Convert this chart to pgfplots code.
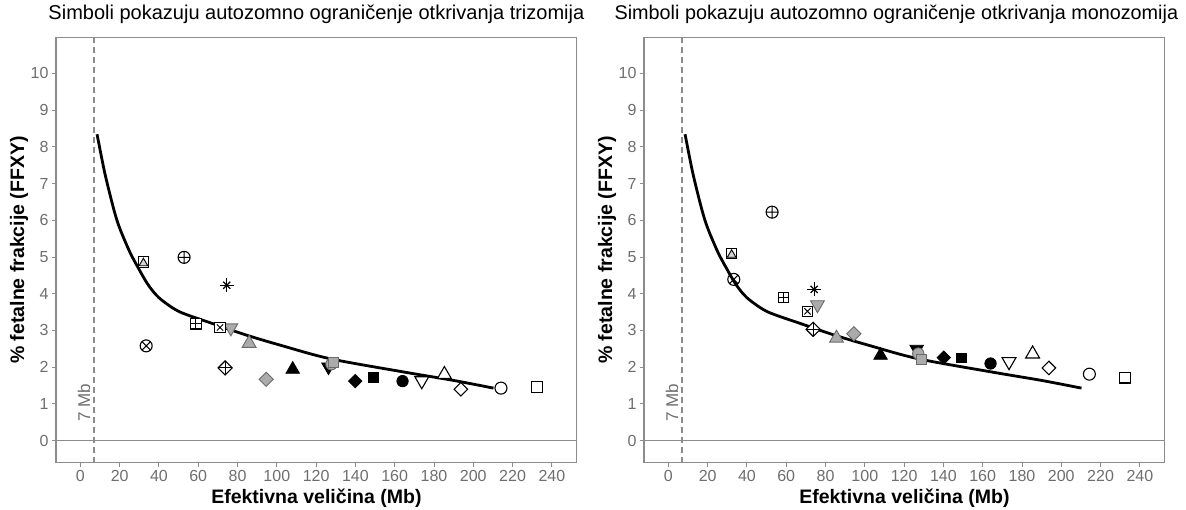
\documentclass[border=0pt]{standalone}
\usepackage{fontspec}
\setmainfont{Liberation Sans}
\usepackage{pgfplots}
\pgfplotsset{compat=1.18}
\definecolor{axisgray}{HTML}{8C8C8C}
\definecolor{tickgray}{HTML}{6E6E6E}
\definecolor{gmfill}{HTML}{ABABAB}
\definecolor{gmedge}{HTML}{6A6A6A}
\tikzset{
  om/.style={draw=black, fill=white, line width=1.1pt},
  bm/.style={draw=black, fill=black, line width=0.8pt},
  gm/.style={draw=gmedge, fill=gmfill, line width=0.9pt},
}
\pgfplotsset{
  panel/.style={
    scale only axis, width=520.8pt, height=425.4pt,
    xmin=-12.4, xmax=252.7, ymin=-0.6, ymax=10.98,
    xtick={0,20,...,240}, ytick={0,1,...,10},
    axis line style={draw=axisgray, line width=1.3pt},
    tick style={draw=axisgray, line width=0.9pt},
    tick align=outside, tick pos=left, major tick length=4pt,
    ticklabel style={font=\fontsize{16}{16}\selectfont, text=tickgray},
    /pgf/number format/assume math mode=true,
    xlabel={Efektivna veličina (Mb)},
    ylabel={\% fetalne frakcije (FFXY)},
    label style={font=\fontsize{19.5}{20}\selectfont\bfseries},
    xlabel style={at={(axis description cs:0.5,-0.0964)}, anchor=base},
    ylabel style={at={(axis description cs:-0.0614,0.5)}, anchor=base, rotate=0},
    title style={at={(axis description cs:0.5,1.028)}, anchor=base, font=\fontsize{20}{22}\selectfont},
    clip=false,
  },
}
\pgfplotstableread{
x y
8.5 8.34
12.5 7.27
17.2 6.26
20.2 5.76
25.3 5.12
29.5 4.70
33.8 4.30
38.0 4.00
42.3 3.79
50.8 3.50
67.7 3.18
84.7 2.87
101.7 2.60
127.1 2.23
164.5 1.87
189.9 1.64
210.3 1.43
}\curvedata
\begin{document}
\begin{tikzpicture}
\path[use as bounding box] (-56pt,-47.3pt) rectangle (1130pt,462.7pt);
% ---------------- left panel ----------------
\begin{axis}[panel, at={(0pt,0pt)}, anchor=south west,
  title={Simboli pokazuju autozomno ograničenje otkrivanja trizomija}]
\addplot[axisgray, line width=1.3pt] coordinates {(-12.4,0) (252.7,0)};
\addplot[axisgray, line width=1.6pt, dash pattern=on 6pt off 4pt] coordinates {(7,-0.6) (7,10.98)};
\node[rotate=90, text=tickgray, font=\fontsize{17}{17}\selectfont] at (axis cs:1.9,1.03) {7 Mb};
\addplot[black, line width=2.8pt, smooth] table {\curvedata};
% open
\addplot[only marks, mark=square*, mark size=5.2pt, mark options={om}] coordinates {(232.4,1.46)};
\addplot[only marks, mark=*, mark size=6pt, mark options={om}] coordinates {(214.1,1.43)};
\addplot[only marks, mark=square*, mark size=4.8pt, mark options={om, rotate=45}] coordinates {(193.7,1.40)};
\addplot[only marks, mark=triangle*, mark size=8pt, mark options={om}] coordinates {(185.3,1.80)};
\addplot[only marks, mark=triangle*, mark size=8pt, mark options={om, rotate=180}] coordinates {(173.8,1.63)};
% black
\addplot[only marks, mark=*, mark size=5.7pt, mark options={bm}] coordinates {(164.0,1.62)};
\addplot[only marks, mark=square*, mark size=4.9pt, mark options={bm}] coordinates {(149.2,1.72)};
\addplot[only marks, mark=square*, mark size=4.7pt, mark options={bm, rotate=45}] coordinates {(139.9,1.62)};
\addplot[only marks, mark=triangle*, mark size=7.8pt, mark options={bm, rotate=180}] coordinates {(126.3,2.01)};
\addplot[only marks, mark=triangle*, mark size=7.8pt, mark options={bm}] coordinates {(108.1,1.94)};
% gray
\addplot[only marks, mark=*, mark size=5.7pt, mark options={gm}] coordinates {(127.8,2.08)};
\addplot[only marks, mark=square*, mark size=5pt, mark options={gm}] coordinates {(128.8,2.14)};
\addplot[only marks, mark=square*, mark size=5pt, mark options={gm, rotate=45}] coordinates {(94.6,1.67)};
\addplot[only marks, mark=triangle*, mark size=8pt, mark options={gm}] coordinates {(85.9,2.65)};
\addplot[only marks, mark=triangle*, mark size=8pt, mark options={gm, rotate=180}] coordinates {(76.6,3.07)};
% compound
\addplot[only marks, mark=square*, mark size=5.2pt, mark options={om}] coordinates {(71.1,3.08)};
\addplot[only marks, mark=x, mark size=4.4pt, mark options={draw=black, line width=0.9pt}] coordinates {(71.1,3.08)};
\addplot[only marks, mark=square*, mark size=5.2pt, mark options={om}] coordinates {(58.8,3.18)};
\addplot[only marks, mark=+, mark size=5pt, mark options={draw=black, line width=0.9pt}] coordinates {(58.8,3.18)};
\addplot[only marks, mark=square*, mark size=5pt, mark options={om, rotate=45}] coordinates {(73.7,1.98)};
\addplot[only marks, mark=+, mark size=6.9pt, mark options={draw=black, line width=0.9pt}] coordinates {(73.7,1.98)};
\addplot[only marks, mark=oplus, mark size=6pt, mark options={draw=black, fill=white, line width=1.1pt}] coordinates {(52.8,4.99)};
\addplot[only marks, mark=otimes, mark size=6pt, mark options={draw=black, fill=white, line width=1.1pt}] coordinates {(33.5,2.58)};
\addplot[only marks, mark=+, mark size=7pt, mark options={draw=black, line width=1.2pt}] coordinates {(74.5,4.23)};
\addplot[only marks, mark=x, mark size=5pt, mark options={draw=black, line width=1.2pt}] coordinates {(74.5,4.23)};
\addplot[only marks, mark=square*, mark size=5.2pt, mark options={om}] coordinates {(32.1,4.86)};
\addplot[only marks, mark=triangle*, mark size=5pt, mark options={draw=black, fill=gmfill!50, line width=0.9pt}] coordinates {(32.1,4.83)};
\end{axis}
% ---------------- right panel ----------------
\begin{axis}[panel, at={(588pt,0pt)}, anchor=south west,
  title style={at={(axis description cs:0.4846,1.028)}, font=\fontsize{19.8}{22}\selectfont},
  title={Simboli pokazuju autozomno ograničenje otkrivanja monozomija}]
\addplot[axisgray, line width=1.3pt] coordinates {(-12.4,0) (252.7,0)};
\addplot[axisgray, line width=1.6pt, dash pattern=on 6pt off 4pt] coordinates {(7,-0.6) (7,10.98)};
\node[rotate=90, text=tickgray, font=\fontsize{17}{17}\selectfont] at (axis cs:1.9,1.03) {7 Mb};
\addplot[black, line width=2.8pt, smooth] table {\curvedata};
% open
\addplot[only marks, mark=square*, mark size=5.2pt, mark options={om}] coordinates {(232.4,1.71)};
\addplot[only marks, mark=*, mark size=6pt, mark options={om}] coordinates {(214.3,1.81)};
\addplot[only marks, mark=square*, mark size=4.8pt, mark options={om, rotate=45}] coordinates {(193.7,1.98)};
\addplot[only marks, mark=triangle*, mark size=8pt, mark options={om}] coordinates {(185.4,2.36)};
\addplot[only marks, mark=triangle*, mark size=8pt, mark options={om, rotate=180}] coordinates {(173.4,2.15)};
% black
\addplot[only marks, mark=*, mark size=5.7pt, mark options={bm}] coordinates {(164.0,2.10)};
\addplot[only marks, mark=square*, mark size=4.9pt, mark options={bm}] coordinates {(149.1,2.25)};
\addplot[only marks, mark=square*, mark size=4.7pt, mark options={bm, rotate=45}] coordinates {(140.2,2.26)};
\addplot[only marks, mark=triangle*, mark size=7.8pt, mark options={bm, rotate=180}] coordinates {(126.4,2.49)};
\addplot[only marks, mark=triangle*, mark size=7.8pt, mark options={bm}] coordinates {(108.0,2.32)};
% gray
\addplot[only marks, mark=*, mark size=5.7pt, mark options={gm}] coordinates {(127.2,2.37)};
\addplot[only marks, mark=square*, mark size=5pt, mark options={gm}] coordinates {(128.9,2.21)};
\addplot[only marks, mark=square*, mark size=5pt, mark options={gm, rotate=45}] coordinates {(94.4,2.91)};
\addplot[only marks, mark=triangle*, mark size=8pt, mark options={gm}] coordinates {(85.6,2.79)};
\addplot[only marks, mark=triangle*, mark size=8pt, mark options={gm, rotate=180}] coordinates {(75.9,3.70)};
% compound
\addplot[only marks, mark=square*, mark size=5.2pt, mark options={om}] coordinates {(70.8,3.52)};
\addplot[only marks, mark=x, mark size=4.4pt, mark options={draw=black, line width=0.9pt}] coordinates {(70.8,3.52)};
\addplot[only marks, mark=square*, mark size=5.2pt, mark options={om}] coordinates {(58.6,3.90)};
\addplot[only marks, mark=+, mark size=5pt, mark options={draw=black, line width=0.9pt}] coordinates {(58.6,3.90)};
\addplot[only marks, mark=square*, mark size=5pt, mark options={om, rotate=45}] coordinates {(73.7,3.03)};
\addplot[only marks, mark=+, mark size=6.9pt, mark options={draw=black, line width=0.9pt}] coordinates {(73.7,3.03)};
\addplot[only marks, mark=oplus, mark size=6pt, mark options={draw=black, fill=white, line width=1.1pt}] coordinates {(52.8,6.22)};
\addplot[only marks, mark=otimes, mark size=6pt, mark options={draw=black, fill=white, line width=1.1pt}] coordinates {(33.3,4.39)};
\addplot[only marks, mark=+, mark size=7pt, mark options={draw=black, line width=1.2pt}] coordinates {(74.2,4.12)};
\addplot[only marks, mark=x, mark size=5pt, mark options={draw=black, line width=1.2pt}] coordinates {(74.2,4.12)};
\addplot[only marks, mark=square*, mark size=5.2pt, mark options={om}] coordinates {(32.2,5.09)};
\addplot[only marks, mark=triangle*, mark size=5pt, mark options={draw=black, fill=gmfill!50, line width=0.9pt}] coordinates {(32.2,5.06)};
\end{axis}
\end{tikzpicture}
\end{document}
